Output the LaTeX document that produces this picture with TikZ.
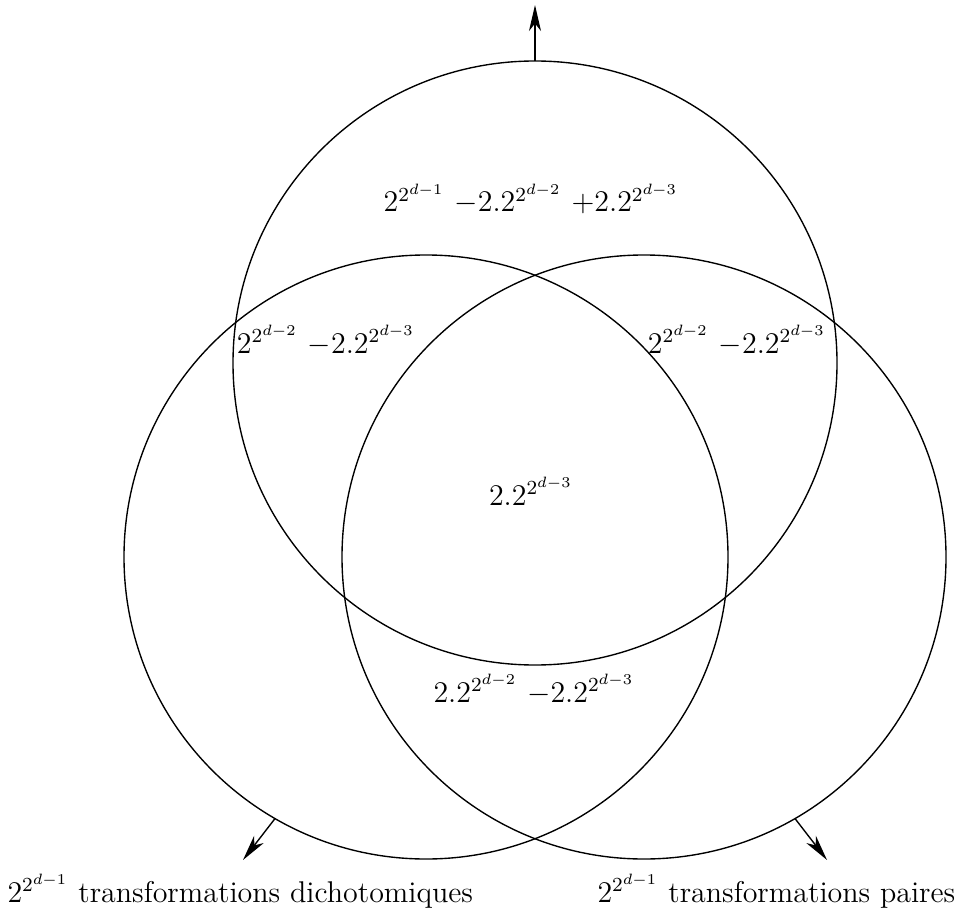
\documentclass[12pt,tikz,border=0pt]{standalone}
\usetikzlibrary{arrows.meta}
\begin{document}
\begin{tikzpicture}[x=0.40pt,y=-0.40pt,
  venn/.style={circle,draw,line width=0.55pt,minimum size=241.6pt,inner sep=0pt,outer sep=0pt},
  arr/.style={line width=0.55pt,-{Stealth[length=10.4pt,width=4.8pt,inset=3pt]}},
  lab/.style={inner sep=0pt,anchor=base}]
\useasboundingbox (0,0) rectangle (959,912);
\node[venn] (T) at (535,363) {};
\node[venn] (L) at (426,557) {};
\node[venn] (R) at (644,557) {};
\coordinate (te) at (535,5);
\coordinate (le) at (243,860);
\coordinate (re) at (827,860);
\draw[arr] (T.north) -- (te);
\draw[arr] (L.240) -- (le);
\draw[arr] (R.300) -- (re);
\node[lab] (a) at (531,212) {$2^{2^{d-1}}$ $-2.2^{2^{d-2}}$ $+2.2^{2^{d-3}}$};
\node[lab] (b) at (326,353) {$2^{2^{d-2}}$ $-2.2^{2^{d-3}}$};
\node[lab] (c) at (737,353) {$2^{2^{d-2}}$ $-2.2^{2^{d-3}}$};
\node[lab] (d) at (531,505) {$2.2^{2^{d-3}}$};
\node[lab] (e) at (534,702) {$2.2^{2^{d-2}}$ $-2.2^{2^{d-3}}$};
\node[lab,anchor=base west] (f) at (7,902) {$2^{2^{d-1}}$ transformations dichotomiques};
\node[lab,anchor=base west] (g) at (597,902) {$2^{2^{d-1}}$ transformations paires};
\end{tikzpicture}
\end{document}
